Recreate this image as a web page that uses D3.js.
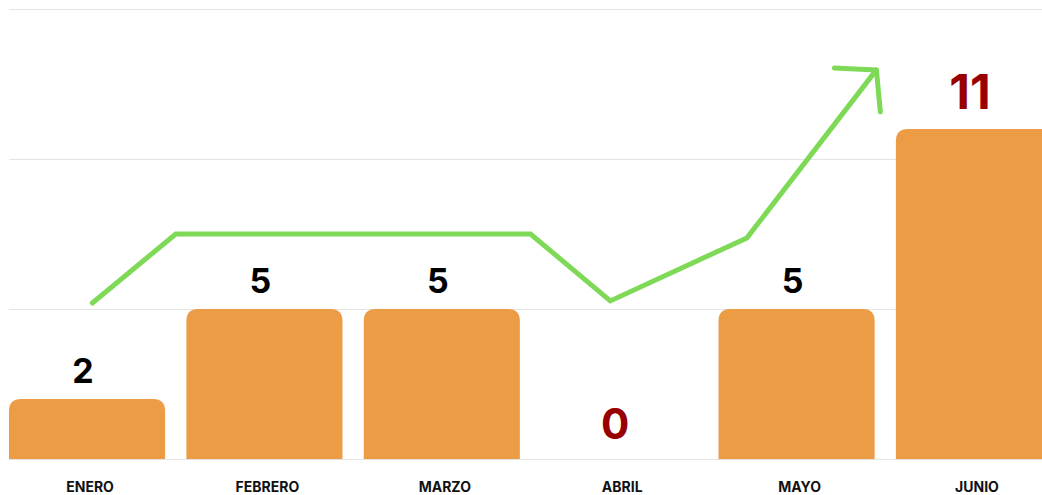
<!DOCTYPE html>
<html>
<head>
<meta charset="utf-8">
<script src="https://cdn.jsdelivr.net/npm/d3@7"></script>
<style>
  body { margin: 0; background: #fff; }
  text { font-family: Inter, Roboto, "Noto Sans", sans-serif; font-weight: 700; }
</style>
</head>
<body>
<svg id="chart" width="1042" height="495"></svg>
<script>
// data
var months = ["ENERO", "FEBRERO", "MARZO", "ABRIL", "MAYO", "JUNIO"];
var values = [2, 5, 5, 0, 5, 11];
var highlight = [false, false, false, true, false, true];
var yTicks = [0, 5, 10, 15];
// hand drawn trend arrow: fractional month index, value units
var trendX = [0.03, 0.5, 2.5, 2.95, 3.72, 4.45];
var trendY = [5.2, 7.5, 7.5, 5.27, 7.37, 12.97];

var svg = d3.select("#chart");

var x = d3.scaleBand().domain(months).range([9, 1052]).paddingInner(0.12).paddingOuter(0);
var y = d3.scaleLinear().domain([0, 15]).range([459, 9]);
var xi = d3.scaleLinear().domain([0, 1]).range([x(months[0]) + x.bandwidth() / 2, x(months[1]) + x.bandwidth() / 2]);

// grid
svg.append("g").selectAll("line").data(yTicks).join("line")
    .attr("x1", 9).attr("x2", 1042)
    .attr("y1", d => y(d) + 0.5).attr("y2", d => y(d) + 0.5)
    .attr("stroke", "#e4e4e4").attr("stroke-width", 1);

// bars with rounded top corners
function barPath(x0, w, top, bottom, r) {
    if (bottom - top <= 0) return "";
    r = Math.min(r, bottom - top, w / 2);
    return "M" + x0 + "," + bottom +
        "V" + (top + r) +
        "Q" + x0 + "," + top + " " + (x0 + r) + "," + top +
        "H" + (x0 + w - r) +
        "Q" + (x0 + w) + "," + top + " " + (x0 + w) + "," + (top + r) +
        "V" + bottom + "Z";
}

svg.append("g").selectAll("path").data(values).join("path")
    .attr("d", (d, i) => barPath(x(months[i]), x.bandwidth(), y(d), y(0), 12))
    .attr("fill", "#eb9c45");

// value labels
svg.append("g").selectAll("text").data(values).join("text")
    .attr("x", (d, i) => x(months[i]) + x.bandwidth() / 2 - 4)
    .attr("y", (d, i) => y(d) - (highlight[i] ? 20 : 16))
    .attr("text-anchor", "middle")
    .attr("font-size", (d, i) => highlight[i] ? (d > 9 ? 48 : 42) : 34)
    .attr("fill", (d, i) => highlight[i] ? "#990000" : "#000")
    .text(d => d);

// month labels
svg.append("g").selectAll("text").data(months).join("text")
    .attr("x", d => x(d) + x.bandwidth() / 2 + 3)
    .attr("y", 492)
    .attr("text-anchor", "middle")
    .attr("font-size", 14)
    .attr("fill", "#111")
    .text(d => d);

// trend arrow
var pts = trendX.map((v, i) => [xi(v), y(trendY[i])]);
var line = d3.line();
svg.append("path")
    .attr("d", line(pts))
    .attr("fill", "none")
    .attr("stroke", "#7ed957")
    .attr("stroke-width", 5)
    .attr("stroke-linejoin", "miter")
    .attr("stroke-linecap", "round");

var end = pts[pts.length - 1], prev = pts[pts.length - 2];
var ang = Math.atan2(prev[1] - end[1], prev[0] - end[0]);
var armLen = 42;
var arms = [ang + 55 * Math.PI / 180, ang - 43 * Math.PI / 180].map(a => [end[0] + armLen * Math.cos(a), end[1] + armLen * Math.sin(a)]);
svg.append("path")
    .attr("d", line([arms[0], end, arms[1]]))
    .attr("fill", "none")
    .attr("stroke", "#7ed957")
    .attr("stroke-width", 5)
    .attr("stroke-linejoin", "round")
    .attr("stroke-linecap", "round");
</script>
</body>
</html>
